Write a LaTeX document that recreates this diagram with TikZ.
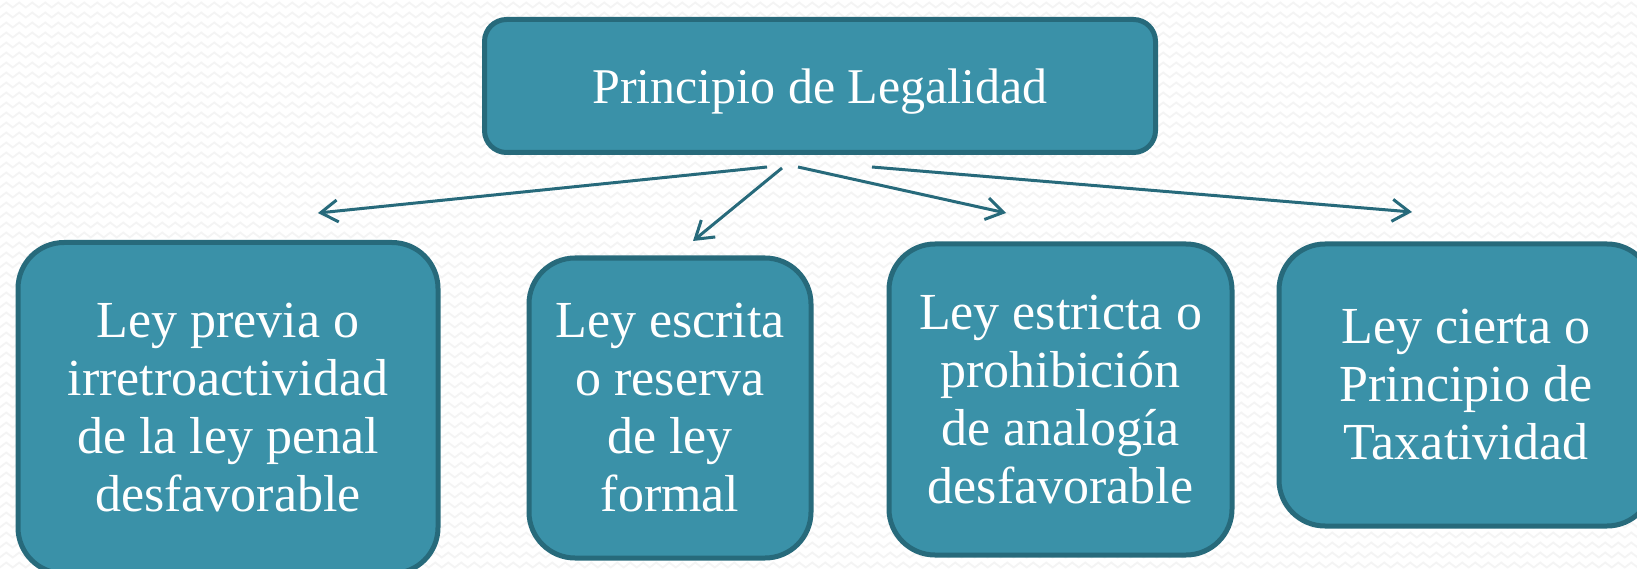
\documentclass[tikz,border=0pt]{standalone}
\usepackage{fontspec}
\setmainfont{Liberation Serif}
\usetikzlibrary{arrows.meta,decorations.pathmorphing}
\definecolor{boxfill}{HTML}{3A91A8}
\definecolor{boxline}{HTML}{276A7B}
\definecolor{zz}{HTML}{F4F4F4}
\begin{document}
\begin{tikzpicture}[x=1pt,y=-1pt,
  box/.style={draw=boxline, fill=boxfill, line width=5pt, rounded corners=46pt,
    text=white, align=center, font=\fontsize{52}{58}\selectfont, inner sep=0pt},
  topbox/.style={box, rounded corners=22pt, font=\fontsize{50}{58}\selectfont,
    text height=35pt, text depth=0pt},
  conn/.style={draw=boxline, line width=3pt, -{Straight Barb[length=17pt,width=22pt]}},
  zigrow/.style={draw=zz, line width=1.8pt, decorate,
    decoration={zigzag,segment length=13pt,amplitude=2.5pt}}]
\useasboundingbox (0,0) rectangle (1637,569);
\clip (0,0) rectangle (1637,569);
\fill[white] (0,0) rectangle (1637,569);
\foreach \yy in {5,15,...,565} \draw[zigrow] (-10,\yy) -- (1650,\yy);

\node[topbox, minimum width=671pt, minimum height=133pt] (top) at (820,86) {Principio de Legalidad};
\node[box, minimum width=420pt, minimum height=331pt] (b1) at (228,408) {Ley previa o\\irretroactividad\\de la ley penal\\desfavorable};
\node[box, minimum width=282pt, minimum height=300pt] (b2) at (670,408) {Ley escrita\\o reserva\\de ley\\formal};
\node[box, minimum width=343pt, minimum height=311pt] (b3) at (1060.5,399.5) {Ley estricta o\\prohibición\\de analogía\\desfavorable};
\node[box, minimum width=374pt, minimum height=282pt] (b4) at (1466,385) {Ley cierta o\\Principio de\\Taxatividad};

\coordinate (s1) at (767,167);
\coordinate (e1) at (318,213);
\coordinate (s2) at (782,168);
\coordinate (e2) at (693,241);
\coordinate (s3) at (798,167);
\coordinate (e3) at (1006,213);
\coordinate (s4) at (872,167);
\coordinate (e4) at (1412,212);
\draw[conn] (s1) -- (e1);
\draw[conn] (s2) -- (e2);
\draw[conn] (s3) -- (e3);
\draw[conn] (s4) -- (e4);
\end{tikzpicture}
\end{document}
